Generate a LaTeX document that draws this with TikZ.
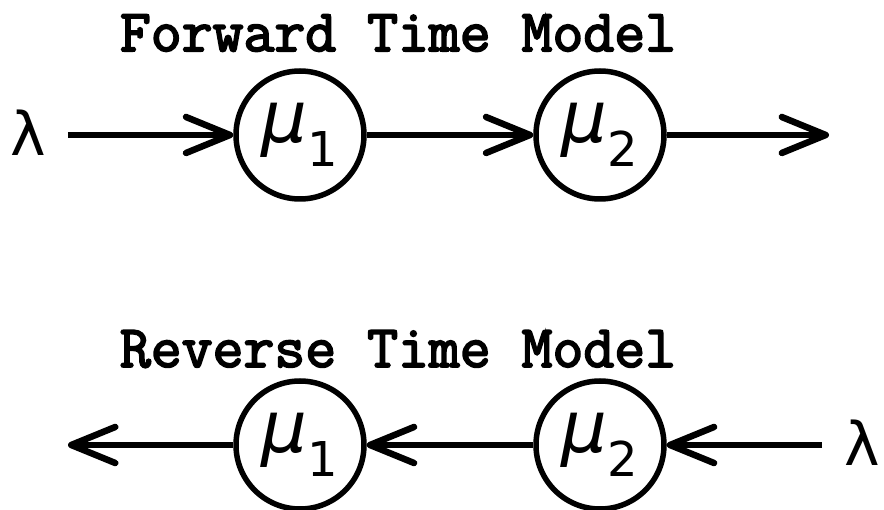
\documentclass[tikz,border=0pt]{standalone}
\usepackage{fontspec}
\usetikzlibrary{arrows.meta}
\newfontfamily\symfont{DejaVu Sans}
\newfontfamily\ttlfont{Latin Modern Mono}[AutoFakeBold=3]
\tikzset{
  ttl/.style={inner sep=0pt, font=\fontsize{60}{60}\selectfont\ttlfont\bfseries},
  lam/.style={inner sep=0pt, font=\fontsize{60}{60}\selectfont\symfont},
  srv/.style={circle, draw, line width=5.5pt, minimum size=128pt, inner sep=0pt},
  arr/.style={line width=5.5pt, -{Straight Barb[length=44pt, width=36pt, line width=6.5pt, round]}}
}
\newcommand{\mulab}[1]{{\symfont\fontsize{72}{72}\selectfont\itshape μ}\raisebox{-24pt}{\symfont\fontsize{48}{48}\selectfont #1}}
\begin{document}
\begin{tikzpicture}[x=1pt,y=1pt]
\useasboundingbox (0,0) rectangle (884,509);
% forward
\node[ttl] (t1) at (398,476) {Forward Time Model};
\node[lam] (l1) at (28,376) {λ};
\node[srv] (a1) at (300,374) {\mulab{1}};
\node[srv] (a2) at (600,374) {\mulab{2}};
\coordinate (e1) at (829,374);
\draw[arr] ([xshift=22pt]l1.east |- a1.west) -- (a1.west);
\draw[arr] (a1.east) -- (a2.west);
\draw[arr] (a2.east) -- (e1);
% reverse
\node[ttl] (t2) at (398,160) {Reverse Time Model};
\node[srv] (b1) at (300,64) {\mulab{1}};
\node[srv] (b2) at (600,64) {\mulab{2}};
\node[lam] (l2) at (862,66) {λ};
\coordinate (e2) at (68,64);
\draw[arr] ([xshift=-22pt]l2.west |- b2.east) -- (b2.east);
\draw[arr] (b2.west) -- (b1.east);
\draw[arr] (b1.west) -- (e2);
\end{tikzpicture}
\end{document}
